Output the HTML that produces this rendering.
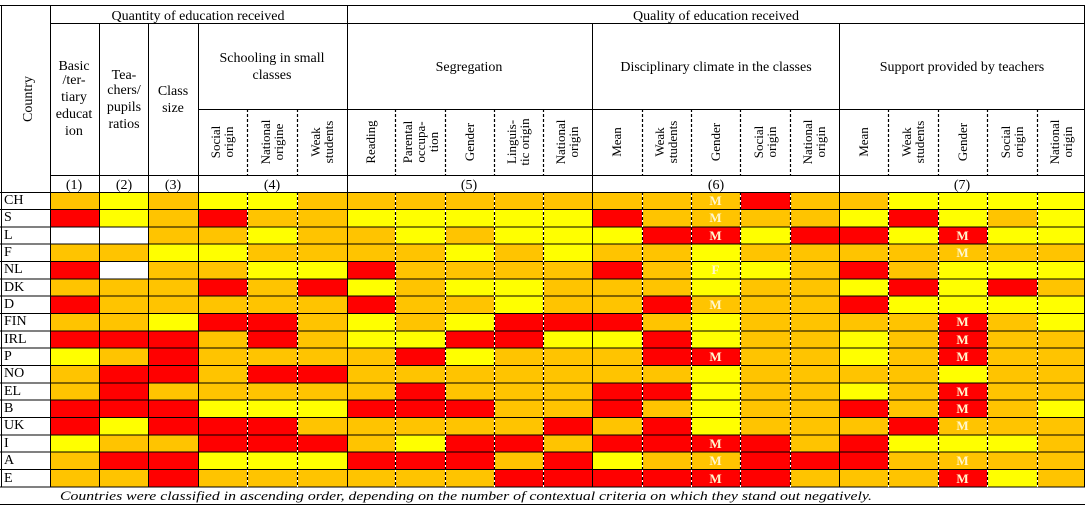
<!DOCTYPE html>
<html><head><meta charset="utf-8">
<style>
html,body{margin:0;padding:0;background:#fff;}
#w{position:relative;width:1085px;height:508px;overflow:hidden;font-family:"Liberation Serif",serif;}
#g{position:absolute;left:50px;top:192px;display:grid;grid-template-columns:49px 49px 50px 49px 50px 50px 48px 50px 49px 49px 49px 50px 49px 49px 50px 49px 49px 50px 49px 50px 48px;grid-template-rows:repeat(17,17.35px);}
#g i{display:block;font-style:normal;color:#fff6cc;font-size:13px;text-align:center;line-height:17px;font-weight:bold;font-family:"Liberation Serif",serif;}
.o{background:#FFC400}.y{background:#FFFF00}.r{background:#FF0000}.w{background:#fff}
#c{position:absolute;left:4px;top:192px;font-size:14px;font-family:"Liberation Serif",serif;}
#c div{height:17.35px;line-height:18px;}
svg{position:absolute;left:0;top:0;}
svg text{font-family:"Liberation Serif",serif;}
</style></head><body><div id="w">
<div id="g">
<i class=o></i><i class=y></i><i class=o></i><i class=y></i><i class=y></i><i class=o></i><i class=o></i><i class=o></i><i class=o></i><i class=o></i><i class=o></i><i class=o></i><i class=o></i><i class=o>M</i><i class=r></i><i class=o></i><i class=o></i><i class=y></i><i class=y></i><i class=y></i><i class=y></i>
<i class=r></i><i class=y></i><i class=o></i><i class=r></i><i class=o></i><i class=o></i><i class=y></i><i class=y></i><i class=y></i><i class=y></i><i class=y></i><i class=r></i><i class=o></i><i class=o>M</i><i class=o></i><i class=o></i><i class=y></i><i class=r></i><i class=y></i><i class=o></i><i class=y></i>
<i class=w></i><i class=w></i><i class=o></i><i class=o></i><i class=y></i><i class=o></i><i class=o></i><i class=y></i><i class=o></i><i class=y></i><i class=y></i><i class=y></i><i class=r></i><i class=r>M</i><i class=y></i><i class=r></i><i class=r></i><i class=y></i><i class=r>M</i><i class=y></i><i class=y></i>
<i class=o></i><i class=o></i><i class=y></i><i class=y></i><i class=o></i><i class=o></i><i class=o></i><i class=o></i><i class=y></i><i class=o></i><i class=y></i><i class=o></i><i class=o></i><i class=y></i><i class=o></i><i class=o></i><i class=o></i><i class=o></i><i class=o>M</i><i class=o></i><i class=o></i>
<i class=r></i><i class=w></i><i class=o></i><i class=o></i><i class=y></i><i class=y></i><i class=r></i><i class=o></i><i class=o></i><i class=o></i><i class=o></i><i class=r></i><i class=o></i><i class=y>F</i><i class=y></i><i class=o></i><i class=r></i><i class=o></i><i class=y></i><i class=y></i><i class=y></i>
<i class=o></i><i class=o></i><i class=o></i><i class=r></i><i class=o></i><i class=r></i><i class=y></i><i class=o></i><i class=y></i><i class=y></i><i class=o></i><i class=o></i><i class=o></i><i class=y></i><i class=o></i><i class=o></i><i class=y></i><i class=r></i><i class=y></i><i class=r></i><i class=o></i>
<i class=r></i><i class=o></i><i class=o></i><i class=o></i><i class=o></i><i class=o></i><i class=r></i><i class=o></i><i class=o></i><i class=y></i><i class=o></i><i class=o></i><i class=r></i><i class=o>M</i><i class=o></i><i class=o></i><i class=r></i><i class=y></i><i class=y></i><i class=y></i><i class=y></i>
<i class=o></i><i class=o></i><i class=y></i><i class=r></i><i class=r></i><i class=o></i><i class=y></i><i class=o></i><i class=y></i><i class=r></i><i class=r></i><i class=r></i><i class=o></i><i class=y></i><i class=o></i><i class=o></i><i class=o></i><i class=o></i><i class=r>M</i><i class=o></i><i class=y></i>
<i class=r></i><i class=r></i><i class=r></i><i class=o></i><i class=r></i><i class=o></i><i class=y></i><i class=y></i><i class=r></i><i class=r></i><i class=y></i><i class=y></i><i class=r></i><i class=y></i><i class=o></i><i class=o></i><i class=y></i><i class=o></i><i class=r>M</i><i class=o></i><i class=o></i>
<i class=y></i><i class=o></i><i class=r></i><i class=o></i><i class=o></i><i class=o></i><i class=o></i><i class=r></i><i class=y></i><i class=o></i><i class=o></i><i class=o></i><i class=r></i><i class=r>M</i><i class=o></i><i class=o></i><i class=y></i><i class=o></i><i class=r>M</i><i class=o></i><i class=o></i>
<i class=o></i><i class=r></i><i class=r></i><i class=o></i><i class=r></i><i class=r></i><i class=o></i><i class=o></i><i class=o></i><i class=o></i><i class=o></i><i class=o></i><i class=o></i><i class=y></i><i class=o></i><i class=o></i><i class=o></i><i class=o></i><i class=y></i><i class=o></i><i class=o></i>
<i class=o></i><i class=r></i><i class=o></i><i class=o></i><i class=o></i><i class=o></i><i class=o></i><i class=r></i><i class=o></i><i class=o></i><i class=o></i><i class=r></i><i class=r></i><i class=y></i><i class=o></i><i class=o></i><i class=y></i><i class=o></i><i class=r>M</i><i class=o></i><i class=o></i>
<i class=r></i><i class=r></i><i class=r></i><i class=y></i><i class=y></i><i class=y></i><i class=r></i><i class=r></i><i class=r></i><i class=o></i><i class=o></i><i class=r></i><i class=o></i><i class=y></i><i class=o></i><i class=o></i><i class=r></i><i class=o></i><i class=r>M</i><i class=o></i><i class=y></i>
<i class=r></i><i class=y></i><i class=r></i><i class=r></i><i class=r></i><i class=o></i><i class=o></i><i class=o></i><i class=o></i><i class=o></i><i class=r></i><i class=o></i><i class=r></i><i class=y></i><i class=o></i><i class=o></i><i class=o></i><i class=r></i><i class=o>M</i><i class=o></i><i class=o></i>
<i class=y></i><i class=o></i><i class=o></i><i class=r></i><i class=r></i><i class=r></i><i class=o></i><i class=y></i><i class=r></i><i class=r></i><i class=o></i><i class=r></i><i class=r></i><i class=r>M</i><i class=r></i><i class=o></i><i class=r></i><i class=y></i><i class=y></i><i class=y></i><i class=o></i>
<i class=o></i><i class=r></i><i class=r></i><i class=y></i><i class=y></i><i class=y></i><i class=r></i><i class=r></i><i class=r></i><i class=o></i><i class=r></i><i class=y></i><i class=o></i><i class=o>M</i><i class=r></i><i class=r></i><i class=r></i><i class=o></i><i class=o>M</i><i class=o></i><i class=o></i>
<i class=o></i><i class=o></i><i class=r></i><i class=o></i><i class=o></i><i class=o></i><i class=o></i><i class=o></i><i class=o></i><i class=r></i><i class=r></i><i class=r></i><i class=r></i><i class=r>M</i><i class=r></i><i class=o></i><i class=o></i><i class=o></i><i class=r>M</i><i class=y></i><i class=o></i>
</div>
<div id="c"><div>CH</div><div>S</div><div>L</div><div>F</div><div>NL</div><div>DK</div><div>D</div><div>FIN</div><div>IRL</div><div>P</div><div>NO</div><div>EL</div><div>B</div><div>UK</div><div>I</div><div>A</div><div>E</div></div>
<svg width="1085" height="508" viewBox="0 0 1085 508" fill="#000">
<g stroke="#000" stroke-width="1" fill="none">
<path d="M0 5.5H1085M50 23.5H1085M198 109.5H1085M50 175.5H1085M0 192.5H1085M0 209.5H1085M0 227H1085M0 244H1085M0 261.5H1085M0 279H1085M0 296H1085M0 313.5H1085M0 331H1085M0 348H1085M0 365.5H1085M0 383H1085M0 400H1085M0 417.5H1085M0 435H1085M0 452H1085M0 469.5H1085M0 487H1085M0 504.5H1085"/>
<path d="M1.5 5V487M50.5 5V487M347.5 5V487M1084.5 5V487M99.5 23V487M148.5 23V487M198.5 23V487M592.5 23V487M839.5 23V487"/>
</g>
<g stroke="#fff" stroke-width="1">
<path d="M247.5 192V487M297.5 192V487M395.5 192V487M445.5 192V487M494.5 192V487M543.5 192V487M642.5 192V487M691.5 192V487M740.5 192V487M790.5 192V487M888.5 192V487M938.5 192V487M987.5 192V487M1037.5 192V487"/>
</g>
<g stroke="#000" stroke-width="1.2" stroke-dasharray="3,2">
<path d="M247.5 109V175M297.5 109V175M395.5 109V175M445.5 109V175M494.5 109V175M543.5 109V175M642.5 109V175M691.5 109V175M740.5 109V175M790.5 109V175M888.5 109V175M938.5 109V175M987.5 109V175M1037.5 109V175"/>
<path d="M247.5 192V487M297.5 192V487M395.5 192V487M445.5 192V487M494.5 192V487M543.5 192V487M642.5 192V487M691.5 192V487M740.5 192V487M790.5 192V487M888.5 192V487M938.5 192V487M987.5 192V487M1037.5 192V487"/>
</g>
<g font-size="14" text-anchor="middle">
<text x="198" y="20">Quantity of education received</text>
<text x="716" y="20">Quality of education received</text>
<text x="74" y="70">Basic</text><text x="74" y="84">/ter-</text><text x="74" y="101">tiary</text><text x="74" y="118">educat</text><text x="74" y="135">ion</text>
<text x="124" y="79">Tea-</text><text x="124" y="94">chers/</text><text x="124" y="111">pupils</text><text x="124" y="128">ratios</text>
<text x="173" y="95">Class</text><text x="173" y="112">size</text>
<text x="272" y="62">Schooling in small</text><text x="272" y="79">classes</text>
<text x="469" y="71">Segregation</text>
<text x="716" y="71">Disciplinary climate in the classes</text>
<text x="962" y="71">Support provided by teachers</text>
<text transform="translate(32,99) rotate(-90)">Country</text>
<text x="74" y="189">(1)</text><text x="124" y="189">(2)</text><text x="173" y="189">(3)</text><text x="272" y="189">(4)</text><text x="469" y="189">(5)</text><text x="716" y="189">(6)</text><text x="962" y="189">(7)</text>
</g>
<g font-size="13" text-anchor="middle">
<text transform="translate(222,142) rotate(-90)"><tspan x="0" y="-2">Social</tspan><tspan x="0" y="11">origin</tspan></text>
<text transform="translate(272,142) rotate(-90)"><tspan x="0" y="-2">National</tspan><tspan x="0" y="11">origine</tspan></text>
<text transform="translate(322,142) rotate(-90)"><tspan x="0" y="-2">Weak</tspan><tspan x="0" y="11">students</tspan></text>
<text transform="translate(375,142) rotate(-90)"><tspan x="0" y="0">Reading</tspan></text>
<text transform="translate(420,142) rotate(-90)"><tspan x="0" y="-8">Parental</tspan><tspan x="0" y="5">occupa-</tspan><tspan x="0" y="18">tion</tspan></text>
<text transform="translate(474,142) rotate(-90)"><tspan x="0" y="0">Gender</tspan></text>
<text transform="translate(518,142) rotate(-90)"><tspan x="0" y="-2">Linguis-</tspan><tspan x="0" y="11">tic origin</tspan></text>
<text transform="translate(567,142) rotate(-90)"><tspan x="0" y="-2">National</tspan><tspan x="0" y="11">origin</tspan></text>
<text transform="translate(621,142) rotate(-90)"><tspan x="0" y="0">Mean</tspan></text>
<text transform="translate(666,142) rotate(-90)"><tspan x="0" y="-2">Weak</tspan><tspan x="0" y="11">students</tspan></text>
<text transform="translate(720,142) rotate(-90)"><tspan x="0" y="0">Gender</tspan></text>
<text transform="translate(765,142) rotate(-90)"><tspan x="0" y="-2">Social</tspan><tspan x="0" y="11">origin</tspan></text>
<text transform="translate(814,142) rotate(-90)"><tspan x="0" y="-2">National</tspan><tspan x="0" y="11">origin</tspan></text>
<text transform="translate(868,142) rotate(-90)"><tspan x="0" y="0">Mean</tspan></text>
<text transform="translate(913,142) rotate(-90)"><tspan x="0" y="-2">Weak</tspan><tspan x="0" y="11">students</tspan></text>
<text transform="translate(967,142) rotate(-90)"><tspan x="0" y="0">Gender</tspan></text>
<text transform="translate(1012,142) rotate(-90)"><tspan x="0" y="-2">Social</tspan><tspan x="0" y="11">origin</tspan></text>
<text transform="translate(1061,142) rotate(-90)"><tspan x="0" y="-2">National</tspan><tspan x="0" y="11">origin</tspan></text>
</g>
<text x="60" y="500" font-size="13" font-style="italic" textLength="812" lengthAdjust="spacingAndGlyphs">Countries were classified in ascending order, depending on the number of contextual criteria on which they stand out negatively.</text>
</svg>
</div></body></html>
